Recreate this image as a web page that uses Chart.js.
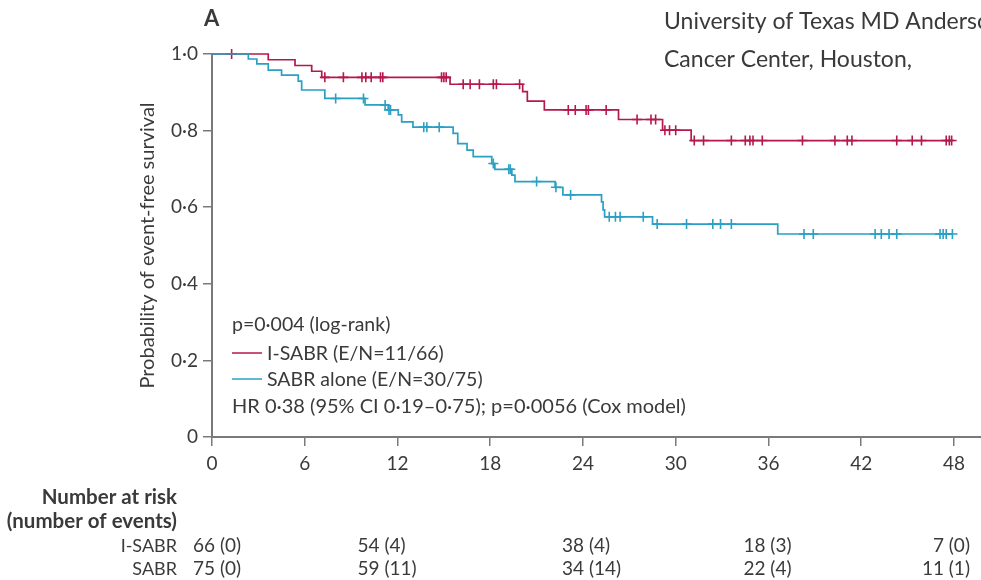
<!DOCTYPE html>
<html lang="en">
<head>
<meta charset="UTF-8">
<script src="https://cdn.jsdelivr.net/npm/chart.js"></script>
<title>Event-free survival</title>
<style>
  body { margin: 0; background: #fff; }
  canvas { display: block; }
</style>
</head>
<body>
<canvas id="myChart" width="981" height="580"></canvas>
<script>
// x axis ticks (months) and y ticks
const monthTicks = [0, 6, 12, 18, 24, 30, 36, 42, 48];
const probTicks = [0, 0.2, 0.4, 0.6, 0.8, 1.0];

// I-SABR: times of each step and survival after the step
const isabrTimes = [0, 3.64, 5.37, 6.45, 7.1, 15.4, 20.1, 20.4, 21.5, 26.3, 29.15, 31.0, 47.9];
const isabrSurv = [1, 0.985, 0.970, 0.955, 0.939, 0.921, 0.902, 0.877, 0.854, 0.829, 0.801, 0.774, 0.774];
const isabrCensored = [1.27, 7.3, 8.5, 9.7, 9.95, 10.3, 10.9, 11.05, 14.85, 15.0, 15.15, 16.25, 16.7, 17.3,
  18.2, 18.4, 19.9, 23.05, 23.5, 24.2, 24.35, 25.5, 27.5, 28.4, 28.7, 29.3, 29.6, 30.0, 31.2, 31.8,
  33.6, 34.5, 34.8, 35.0, 35.6, 38.2, 40.3, 41.1, 41.4, 44.3, 45.3, 45.9, 47.5, 47.7, 47.85];

// SABR alone
const sabrTimes = [0, 2.35, 2.9, 3.64, 4.5, 5.58, 5.8, 7.3, 9.9, 11.4, 12.05, 12.27, 13.0, 15.6, 15.9,
  16.5, 16.9, 18.1, 18.3, 19.4, 19.6, 22.2, 22.7, 25.2, 25.3, 25.4, 28.5, 36.6, 47.9];
const sabrSurv = [1, 0.987, 0.974, 0.958, 0.945, 0.929, 0.906, 0.884, 0.867, 0.854, 0.841, 0.823, 0.809,
  0.793, 0.766, 0.749, 0.732, 0.714, 0.699, 0.684, 0.667, 0.652, 0.632, 0.614, 0.593, 0.575, 0.556, 0.530, 0.530];
const sabrCensored = [8.0, 9.8, 11.2, 11.45, 11.55, 13.7, 13.9, 14.7, 18.2, 19.2, 19.3, 21.0, 22.25, 23.2,
  25.7, 26.1, 26.4, 27.9, 28.8, 30.7, 32.4, 32.9, 33.6, 38.3, 38.9, 42.9, 43.3, 43.8, 44.3,
  47.1, 47.3, 47.5, 47.9];

// number at risk table
const riskMonths = [0, 12, 24, 36, 48];
const isabrAtRisk = [66, 54, 38, 18, 7];
const isabrEvents = [0, 4, 4, 3, 0];
const sabrAtRisk = [75, 59, 34, 22, 11];
const sabrEvents = [0, 11, 14, 4, 1];

const red = '#b5194c';
const blue = '#2aa0c4';
const textColor = '#3a3a3a';
const axisColor = '#7a7a7a';
const fontFamily = 'Lato, "Open Sans", sans-serif';

function stepPoints(times, surv) {
  return times.map((t, i) => ({ x: t, y: surv[i] }));
}
function survAt(times, surv, t) {
  let s = surv[0];
  for (let i = 0; i < times.length; i++) {
    if (times[i] <= t) s = surv[i];
  }
  return s;
}
function censorPoints(censored, times, surv) {
  return censored.map(t => ({ x: t, y: survAt(times, surv, t) }));
}
function dotNum(v) {
  return v === 0 ? '0' : v.toFixed(1).replace('.', '\u00b7');
}

const extraText = {
  id: 'extraText',
  afterDraw(chart) {
    const ctx = chart.ctx;
    const xs = chart.scales.x;
    ctx.save();
    ctx.fillStyle = textColor;
    ctx.textBaseline = 'middle';

    // panel letter and affiliation text
    ctx.font = 'bold 22px ' + fontFamily;
    ctx.textAlign = 'left';
    ctx.fillText('A', 204, 19);
    ctx.font = '23px ' + fontFamily;
    ctx.fillText('University of Texas MD Anderson', 664, 22);
    ctx.fillText('Cancer Center, Houston,', 664, 60);

    // legend inside the plot
    ctx.font = '19.5px ' + fontFamily;
    ctx.fillText('p=0\u00b7004 (log-rank)', 232, 325);
    ctx.lineWidth = 1.5;
    ctx.strokeStyle = red;
    ctx.beginPath(); ctx.moveTo(232, 353); ctx.lineTo(262, 353); ctx.stroke();
    ctx.fillText('I-SABR (E/N=11/66)', 267, 354);
    ctx.strokeStyle = blue;
    ctx.beginPath(); ctx.moveTo(232, 379); ctx.lineTo(262, 379); ctx.stroke();
    ctx.fillText('SABR alone (E/N=30/75)', 267, 380);
    ctx.font = '20px ' + fontFamily;
    ctx.fillText('HR 0\u00b738 (95% CI 0\u00b719\u20130\u00b775); p=0\u00b70056 (Cox model)', 232, 407);

    // number at risk
    ctx.textAlign = 'right';
    ctx.font = 'bold 20.5px ' + fontFamily;
    ctx.fillText('Number at risk', 177, 497);
    ctx.fillText('(number of events)', 177, 521);
    ctx.font = '18px ' + fontFamily;
    ctx.fillText('I-SABR', 177, 546);
    ctx.fillText('SABR', 177, 569);
    const colShift = [-19, -40, -21, -25, 16];
    ctx.font = '19px ' + fontFamily;
    riskMonths.forEach((m, i) => {
      const x = xs.getPixelForValue(m) + colShift[i];
      ctx.textAlign = i === riskMonths.length - 1 ? 'right' : 'left';
      ctx.fillText(isabrAtRisk[i] + ' (' + isabrEvents[i] + ')', x, 546);
      ctx.fillText(sabrAtRisk[i] + ' (' + sabrEvents[i] + ')', x, 569);
    });
    ctx.restore();
  }
};

const config = {
  type: 'line',
  data: {
    datasets: [
      {
        label: 'SABR alone',
        data: stepPoints(sabrTimes, sabrSurv),
        borderColor: blue,
        borderWidth: 1.7,
        stepped: 'before',
        pointRadius: 0,
        clip: 6,
        order: 1
      },
      {
        label: 'SABR censored',
        type: 'scatter',
        data: censorPoints(sabrCensored, sabrTimes, sabrSurv),
        pointStyle: 'cross',
        pointRadius: 5,
        borderColor: blue,
        borderWidth: 1.6,
        clip: 8,
        order: 0
      },
      {
        label: 'I-SABR',
        data: stepPoints(isabrTimes, isabrSurv),
        borderColor: red,
        borderWidth: 1.7,
        stepped: 'before',
        pointRadius: 0,
        clip: 6,
        order: 3
      },
      {
        label: 'I-SABR censored',
        type: 'scatter',
        data: censorPoints(isabrCensored, isabrTimes, isabrSurv),
        pointStyle: 'cross',
        pointRadius: 5,
        borderColor: red,
        borderWidth: 1.6,
        clip: 8,
        order: 2
      }
    ]
  },
  options: {
    responsive: false,
    animation: false,
    devicePixelRatio: 1,
    layout: { autoPadding: false, padding: { left: 128, top: 54, right: 0, bottom: 0 } },
    plugins: {
      legend: { display: false },
      tooltip: { enabled: false }
    },
    scales: {
      x: {
        type: 'linear',
        min: 0,
        max: 49.75,
        afterBuildTicks: scale => { scale.ticks = monthTicks.map(v => ({ value: v })); },
        afterFit: scale => {
          scale.height = 143;
          scale.paddingLeft = 0;
          scale.paddingRight = 0;
        },
        grid: { drawOnChartArea: false, drawTicks: true, tickLength: 9, color: axisColor, lineWidth: 1.5 },
        border: { display: true, color: axisColor, width: 2 },
        ticks: { color: textColor, font: { family: fontFamily, size: 19 }, padding: 6, maxRotation: 0 }
      },
      y: {
        type: 'linear',
        min: 0,
        max: 1,
        afterBuildTicks: scale => { scale.ticks = probTicks.map(v => ({ value: v })); },
        afterFit: scale => {
          scale.width = 84;
          scale.paddingTop = 0;
          scale.paddingBottom = 0;
        },
        grid: { drawOnChartArea: false, drawTicks: true, tickLength: 9, color: axisColor, lineWidth: 1.5 },
        border: { display: true, color: axisColor, width: 2 },
        ticks: {
          color: textColor,
          font: { family: fontFamily, size: 19 },
          padding: 5,
          callback: v => dotNum(v)
        },
        title: {
          display: true,
          text: 'Probability of event-free survival',
          color: textColor,
          font: { family: fontFamily, size: 20 },
          padding: { top: 8, bottom: 0 }
        }
      }
    }
  },
  plugins: [extraText]
};

new Chart(document.getElementById('myChart'), config);
</script>
</body>
</html>
